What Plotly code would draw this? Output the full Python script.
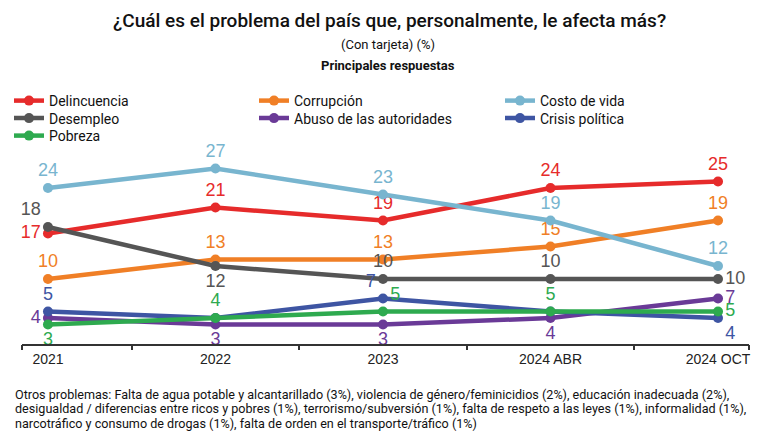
import plotly.graph_objects as go

categories = ["2021", "2022", "2023", "2024 ABR", "2024 OCT"]
delincuencia = [17, 21, 19, 24, 25]
corrupcion = [10, 13, 13, 15, 19]
costo_vida = [24, 27, 23, 19, 12]
desempleo = [18, 12, 10, 10, 10]
abuso = [4, 3, 3, 4, 7]
crisis = [5, 4, 7, 5, 4]
pobreza = [3, 4, 5, 5, 5]

crisis_labels = ["5", "", "7", "", "4"]

# name, values, labels, colour, label positions, legend (column, row)
series = [
    ("Delincuencia", delincuencia, None, "#E62B2B",
     ["middle left", "top center", "top center", "top center", "top center"], (0, 0)),
    ("Corrupción", corrupcion, None, "#F07F26",
     ["top center"] * 5, (1, 0)),
    ("Costo de vida", costo_vida, None, "#78B5CF",
     ["top center"] * 5, (2, 0)),
    ("Desempleo", desempleo, None, "#555555",
     ["top left", "bottom center", "top center", "top center", "middle right"], (0, 1)),
    ("Abuso de las autoridades", abuso, None, "#6A3A97",
     ["middle left", "bottom center", "bottom center", "bottom center", "middle right"], (1, 1)),
    ("Crisis política", crisis, crisis_labels, "#3E55A3",
     ["top center", "top center", "top left", "top center", "bottom right"], (2, 1)),
    ("Pobreza", pobreza, None, "#2EAA4F",
     ["bottom center", "top center", "top right", "top center", "middle right"], (0, 2)),
]

xpos = list(range(len(categories)))

LABEL_FONT = "Liberation Sans, Arial, sans-serif"
FONT = "Roboto, sans-serif"

W, H = 776, 443
L, R, T, B = 22, 27, 149, 99

legend_cols = [9, 254, 500]
legend_rows = [85, 102.5, 120]

fig = go.Figure()
legend_layouts = {}
for i, (name, vals, labels, color, tpos, (col, row)) in enumerate(series):
    leg = "legend" if i == 0 else f"legend{i + 1}"
    fig.add_trace(go.Scatter(
        x=xpos, y=vals, name=name, mode="lines+markers+text",
        text=labels if labels is not None else [str(v) for v in vals],
        textposition=tpos,
        textfont=dict(family=LABEL_FONT, size=18, color=color),
        line=dict(color=color, width=4.5),
        marker=dict(color=color, size=10),
        cliponaxis=False,
        hoverinfo="skip",
        legend=leg,
    ))
    legend_layouts[leg] = dict(
        orientation="v", xref="container", yref="container",
        x=legend_cols[col] / W, y=1 - legend_rows[row] / H,
        xanchor="left", yanchor="top",
        font=dict(family=FONT, size=14, color="#111111"),
        itemwidth=30, bgcolor="rgba(0,0,0,0)",
    )

boundaries = [-0.155, 0.5, 1.5, 2.5, 3.5, 4.185]
fig.add_trace(go.Scatter(x=[None], y=[None], xaxis="x2", showlegend=False, hoverinfo="skip"))

def py(p):
    return (H - B - p) / (H - T - B)

def px(p):
    return (p - L) / (W - L - R)

annotations = [
    dict(text="¿Cuál es el problema del país que, personalmente, le afecta más?",
         x=px(389), xref="paper", y=py(21), yref="paper", xanchor="center", yanchor="middle",
         showarrow=False, font=dict(family=FONT, size=19, color="#111111", weight=500)),
    dict(text="(Con tarjeta) (%)",
         x=px(388), xref="paper", y=py(45), yref="paper", xanchor="center", yanchor="middle",
         showarrow=False, font=dict(family=FONT, size=13, color="#111111")),
    dict(text="<b>Principales respuestas</b>",
         x=px(388), xref="paper", y=py(66), yref="paper", xanchor="center", yanchor="middle",
         showarrow=False, font=dict(family=FONT, size=13, color="#111111")),
]

foot = [
    "Otros problemas: Falta de agua potable y alcantarillado (3%), violencia de género/feminicidios (2%), educación inadecuada (2%),",
    "desigualdad / diferencias entre ricos y pobres (1%), terrorismo/subversión (1%), falta de respeto a las leyes (1%), informalidad (1%),",
    "narcotráfico y consumo de drogas (1%), falta de orden en el transporte/tráfico (1%)",
]
for i, line in enumerate(foot):
    annotations.append(dict(
        text=line, x=px(13), xref="paper", y=py(394 + 14.5 * i), yref="paper",
        xanchor="left", yanchor="middle", showarrow=False,
        font=dict(family=FONT, size=12.6, color="#111111")))

fig.update_layout(
    width=W, height=H,
    margin=dict(l=L, r=R, t=T, b=B, autoexpand=False),
    paper_bgcolor="white", plot_bgcolor="white",
    showlegend=True,
    xaxis=dict(
        range=[-0.155, 4.185], tickvals=xpos, ticktext=categories,
        ticks="", showgrid=False, zeroline=False, showline=True,
        linecolor="#333333", linewidth=2,
        tickfont=dict(family=LABEL_FONT, size=14, color="#222222"),
        ticklabelstandoff=1,
    ),
    xaxis2=dict(
        overlaying="x", matches="x", range=[-0.155, 4.185], side="bottom",
        tickvals=boundaries, ticks="outside", ticklen=5, tickwidth=2, tickcolor="#333333",
        showticklabels=False, showgrid=False, zeroline=False, showline=False,
    ),
    yaxis=dict(range=[0, 30], visible=False, showgrid=False, zeroline=False),
    annotations=annotations,
    **legend_layouts,
)

fig.write_html(
    "out.html",
    config={"displayModeBar": False, "staticPlot": True},
    post_script="document.body.style.margin='0';document.body.style.overflow='hidden';",
)
